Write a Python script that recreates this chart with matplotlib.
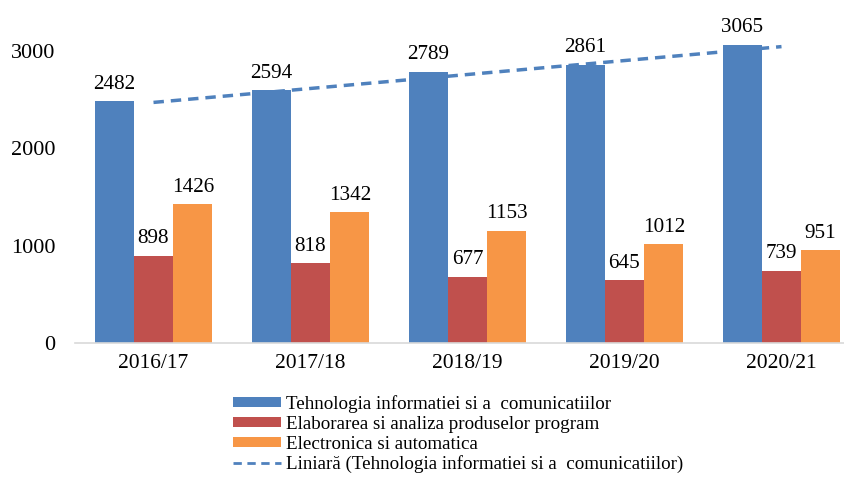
import numpy as np
import matplotlib
matplotlib.use("Agg")
from matplotlib import pyplot as plt

# data
years = ["2016/17", "2017/18", "2018/19", "2019/20", "2020/21"]
tic = [2482, 2594, 2789, 2861, 3065]
epp = [898, 818, 677, 645, 739]
ea = [1426, 1342, 1153, 1012, 951]

names = ["Tehnologia informatiei si a  comunicatiilor",
         "Elaborarea si analiza produselor program",
         "Electronica si automatica"]
colors = ["#4F81BD", "#C0504D", "#F79646"]

plt.rcParams['font.family'] = ['Liberation Serif', 'DejaVu Serif']

fig = plt.figure(figsize=(8.45, 5.01), dpi=100)
ax = fig.add_axes([75/845, 158/501, 785/845, 340.7/501])

x = np.arange(len(years))
w = 0.25
handles = []
for i, (vals, c, n) in enumerate(zip([tic, epp, ea], colors, names)):
    bars = ax.bar(x + (i-1)*w, vals, w, color=c, label=n)
    handles.append(bars)
    for xi, v in zip(x + (i-1)*w, vals):
        ax.annotate(str(v), (xi, v), xytext=(0, 5.5), textcoords="offset points",
                    ha="center", va="bottom", fontsize=15.2)

# linear trend of the first series
k, b = np.polyfit(x, tic, 1)
trend, = ax.plot(x, k*x + b, ls=(0, (3, 2)), color="#4F81BD", lw=2.5,
                 label="Liniară (Tehnologia informatiei si a  comunicatiilor)")

ax.set_xlim(-0.5, 4.5)
ax.set_ylim(0, 3500)
ax.set_yticks([0, 1000, 2000, 3000])
ax.set_xticks(x)
ax.set_xticklabels(years)
ax.tick_params(axis="both", length=0)
ax.tick_params(axis="y", pad=14, labelsize=16)
ax.tick_params(axis="x", pad=8, labelsize=15.5)
for s in ["top", "right", "left"]:
    ax.spines[s].set_visible(False)
ax.spines["bottom"].set_color("#D9D9D9")
ax.spines["bottom"].set_linewidth(1.2)

leg = fig.legend(handles=handles + [trend], loc="upper left",
                 bbox_to_anchor=(233/845, 1 - 395/501), frameon=False,
                 fontsize=13.7, labelspacing=0.15, handlelength=2.5, handleheight=0.45,
                 handletextpad=0.3, borderpad=0, borderaxespad=0)
leg.get_lines()[0].set_linewidth(2)

plt.savefig("out.png", dpi=100)
